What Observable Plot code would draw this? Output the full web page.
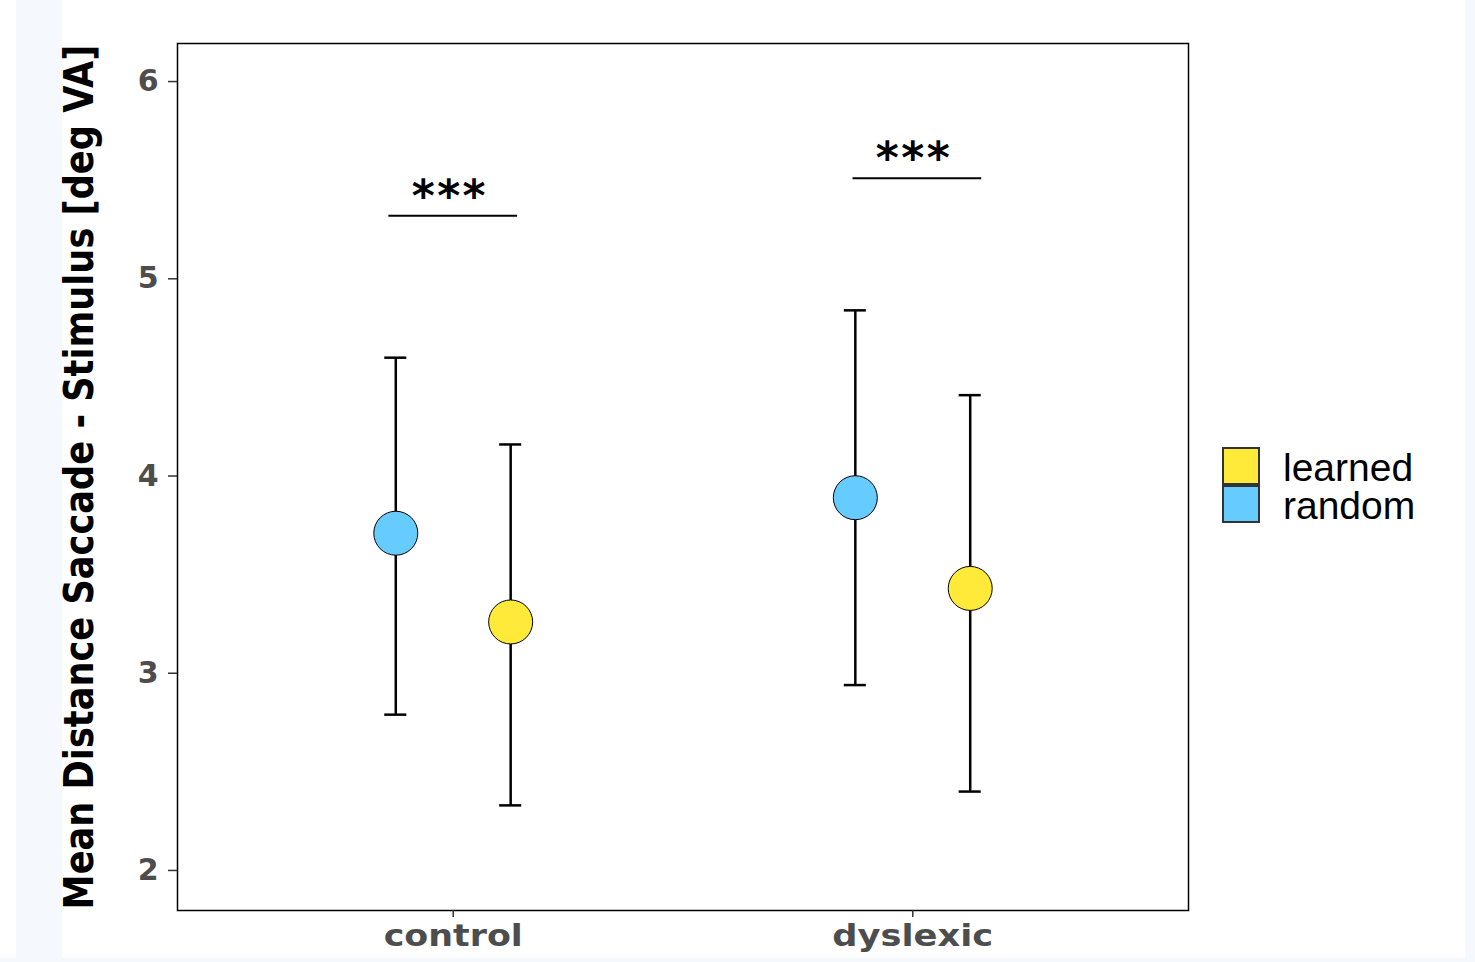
<!DOCTYPE html>
<html>
<head>
<meta charset="utf-8">
<script src="https://cdn.jsdelivr.net/npm/d3@7"></script>
<script src="https://cdn.jsdelivr.net/npm/@observablehq/plot@0.6"></script>
<style>
  html, body { margin: 0; padding: 0; background: #ffffff; }
  #wrap { position: relative; width: 1475px; height: 962px; overflow: hidden; background: #ffffff; }
  .strip { position: absolute; background: #f5f9fe; }
  #chart { position: absolute; left: 0; top: 0; }
  #legend { position: absolute; left: 1222px; top: 447px; font-family: "Liberation Sans", Arial, sans-serif; font-size: 39px; line-height: 38px; color: #000; }
  .item { display: flex; align-items: center; height: 38px; }
  .item span { position: relative; top: 2px; }
  .sw { width: 38px; height: 38px; box-sizing: border-box; border: 2px solid #333; margin-right: 23px; }
</style>
</head>
<body>
<div id="wrap">
  <div class="strip" style="left:16px;top:0;width:46px;height:962px"></div>
  <div class="strip" style="left:0;top:958px;width:1475px;height:4px"></div>
  <div class="strip" style="left:1465px;top:0;width:10px;height:962px"></div>
  <div id="chart"></div>
  <div id="legend"></div>
</div>
<script>
// ---- data ----
const groups = ["control", "dyslexic"];
const groupPos = [1, 2];
const conditions = ["random", "learned"];
const conditionOffset = [-0.125, 0.125];
const meanRandom = [3.71, 3.89];
const lowerRandom = [2.79, 2.94];
const upperRandom = [4.60, 4.84];
const meanLearned = [3.26, 3.43];
const lowerLearned = [2.33, 2.40];
const upperLearned = [4.16, 4.41];
const sigLevel = [5.32, 5.51];
const sigFrom = [0.86, 1.87];
const sigTo = [1.14, 2.15];
const sigLabel = ["***", "***"];
const yTicks = [2, 3, 4, 5, 6];
const yTickLabels = ["2", "3", "4", "5", "6"];
const yLabel = "Mean Distance Saccade - Stimulus [deg VA]";
const legendOrder = ["learned", "random"];
const colorRange = ["#66CCFF", "#FFEA3A"];

// ---- build table ----
const rows = [];
groups.forEach((g, i) => {
  rows.push({group: g, cond: "random", x: groupPos[i] + conditionOffset[0], mean: meanRandom[i], lo: lowerRandom[i], hi: upperRandom[i]});
  rows.push({group: g, cond: "learned", x: groupPos[i] + conditionOffset[1], mean: meanLearned[i], lo: lowerLearned[i], hi: upperLearned[i]});
});
const sig = groups.map((g, i) => ({y: sigLevel[i], x1: sigFrom[i], x2: sigTo[i], label: sigLabel[i], xm: (sigFrom[i] + sigTo[i]) / 2 - 0.01}));
const capHalf = 0.024;

const plot = Plot.plot({
  width: 1475,
  height: 962,
  marginLeft: 177,
  marginRight: 287,
  marginTop: 43,
  marginBottom: 52,
  style: {fontFamily: "DejaVu Sans", background: "transparent"},
  x: {domain: [0.4, 2.6]},
  y: {domain: [1.797, 6.193]},
  color: {domain: conditions, range: colorRange},
  marks: [
    Plot.frame({stroke: "#000", strokeWidth: 1.5}),
    Plot.axisY({ticks: yTicks, tickFormat: d => yTickLabels[yTicks.indexOf(d)], tickSize: 9, tickPadding: 10, fontSize: 30, fontWeight: "bold", color: "#4d4d4d", stroke: "#333", strokeWidth: 1.5, label: null}),
    Plot.axisX({ticks: groupPos, tickFormat: d => groups[d - 1], tickSize: 7, tickPadding: 7, fontSize: 30, fontWeight: "bold", color: "#4d4d4d", stroke: "#333", strokeWidth: 1.5, label: null}),
    Plot.ruleX(rows, {x: "x", y1: "lo", y2: "hi", stroke: "#000", strokeWidth: 2.5}),
    Plot.ruleY(rows, {y: "hi", x1: d => d.x - capHalf, x2: d => d.x + capHalf, stroke: "#000", strokeWidth: 2.5}),
    Plot.ruleY(rows, {y: "lo", x1: d => d.x - capHalf, x2: d => d.x + capHalf, stroke: "#000", strokeWidth: 2.5}),
    Plot.dot(rows, {x: "x", y: "mean", r: 22, fill: "cond", stroke: "#000", strokeWidth: 1}),
    Plot.ruleY(sig, {y: "y", x1: "x1", x2: "x2", stroke: "#000", strokeWidth: 2}),
    Plot.text(sig, {x: "xm", y: "y", text: "label", fontSize: 44, fontWeight: "bold", lineAnchor: "bottom", dy: -5, fill: "#000", fontFamily: "DejaVu Sans"}),
    Plot.text([yLabel], {frameAnchor: "left", dx: -97, rotate: -90, text: d => d, fontSize: 40, fontWeight: "bold", fill: "#000", fontFamily: "DejaVu Sans", textAnchor: "middle", lineAnchor: "middle"})
  ]
});
document.getElementById("chart").appendChild(plot);

// adjust texts to match reference proportions
const svg = d3.select(plot);
svg.selectAll("text").each(function() {
  const t = d3.select(this);
  const s = t.text();
  if (s === yLabel) {
    const L = this.getComputedTextLength();
    const fs = 40 * 865 / L;
    t.attr("font-size", fs);
    const tr = t.attr("transform") || "";
    t.attr("transform", tr + ` scale(1, ${40 / fs})`);
  }
  if (s === "control") t.attr("textLength", 139).attr("lengthAdjust", "spacingAndGlyphs");
  if (s === "dyslexic") t.attr("textLength", 161).attr("lengthAdjust", "spacingAndGlyphs");
  if (s === "***") t.attr("textLength", 74).attr("lengthAdjust", "spacing");
});

// legend
const leg = d3.select("#legend");
legendOrder.forEach(c => {
  const item = leg.append("div").attr("class", "item");
  item.append("div").attr("class", "sw").style("background", colorRange[conditions.indexOf(c)]);
  item.append("span").text(c);
});
</script>
</body>
</html>
